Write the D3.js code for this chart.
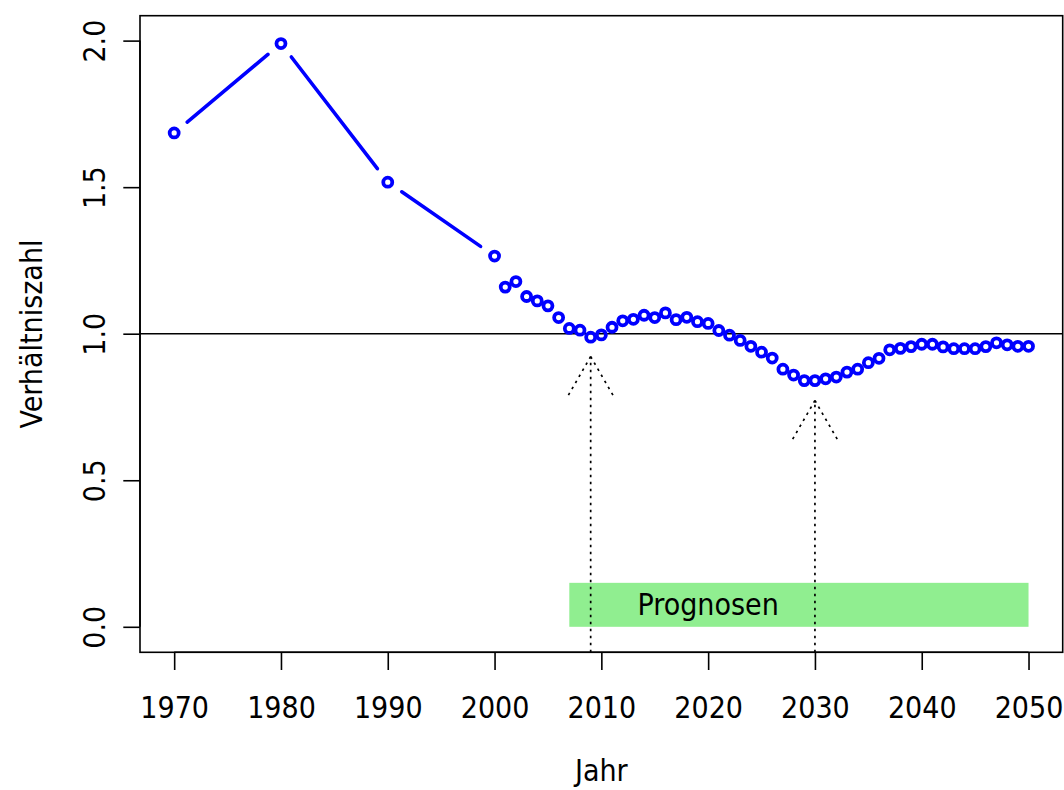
<!DOCTYPE html>
<html>
<head>
<meta charset="utf-8">
<script src="https://cdn.jsdelivr.net/npm/d3@7"></script>
<style>
  body { margin: 0; background: #fff; }
  text { font-family: "DejaVu Sans", sans-serif; font-stretch: condensed; fill: #000; }
</style>
</head>
<body>
<div id="chart"></div>
<script>
// years and ratio values
const years = [1970, 1980, 1990, 2000,
  2001, 2002, 2003, 2004, 2005, 2006, 2007, 2008, 2009, 2010,
  2011, 2012, 2013, 2014, 2015, 2016, 2017, 2018, 2019, 2020,
  2021, 2022, 2023, 2024, 2025, 2026, 2027, 2028, 2029, 2030,
  2031, 2032, 2033, 2034, 2035, 2036, 2037, 2038, 2039, 2040,
  2041, 2042, 2043, 2044, 2045, 2046, 2047, 2048, 2049, 2050];
const values = [1.685, 1.99, 1.517, 1.265,
  1.159, 1.178, 1.127, 1.112, 1.095, 1.055, 1.018, 1.012, 0.988, 0.996,
  1.022, 1.044, 1.049, 1.063, 1.055, 1.071, 1.048, 1.056, 1.041, 1.035,
  1.011, 0.995, 0.977, 0.957, 0.937, 0.917, 0.879, 0.859, 0.840, 0.840,
  0.846, 0.852, 0.869, 0.879, 0.901, 0.916, 0.945, 0.950, 0.956, 0.964,
  0.964, 0.955, 0.949, 0.949, 0.949, 0.956, 0.969, 0.962, 0.957, 0.957];

const xTicks = [1970, 1980, 1990, 2000, 2010, 2020, 2030, 2040, 2050];
const yTicks = [0.0, 0.5, 1.0, 1.5, 2.0];

// arrows marking the two minima
const arrowYears = [2009, 2030];
const arrowTips = [0.922, 0.772];

// forecast band
const bandFrom = 2007, bandTo = 2050, bandTop = 0.15;
const bandLabel = "Prognosen", bandLabelYear = 2020, bandLabelValue = 0.075;
const refLine = 1.0;

const W = 1064, H = 790;
const plot = {left: 140, right: 1062.7, top: 15.7, bottom: 652.3};

const svg = d3.select("#chart").append("svg")
  .attr("width", W).attr("height", H);

// R style 4% padding on x
const x = d3.scaleLinear()
  .domain([1966.8, 2053.2])
  .range([plot.left, plot.right]);

const y = d3.scaleLinear()
  .domain([-0.087, 2.085])
  .range([plot.bottom, plot.top]);

svg.append("defs").append("clipPath")
  .attr("id", "clip")
  .append("rect")
  .attr("x", plot.left).attr("y", plot.top)
  .attr("width", plot.right - plot.left)
  .attr("height", plot.bottom - plot.top);

const inner = svg.append("g").attr("clip-path", "url(#clip)");

// green forecast rectangle
inner.append("rect")
  .attr("x", x(bandFrom))
  .attr("y", y(bandTop))
  .attr("width", x(bandTo) - x(bandFrom))
  .attr("height", y(0) - y(bandTop))
  .attr("fill", "#90EE90");

inner.append("text")
  .attr("x", x(bandLabelYear))
  .attr("y", y(bandLabelValue))
  .attr("text-anchor", "middle")
  .attr("dominant-baseline", "central")
  .style("font-size", "30px")
  .text(bandLabel);

// horizontal reference line
inner.append("line")
  .attr("x1", plot.left).attr("x2", plot.right)
  .attr("y1", y(refLine)).attr("y2", y(refLine))
  .attr("stroke", "#000").attr("stroke-width", 1.6);

// dotted arrows
const headLen = 45, headAng = Math.PI / 6;
arrowYears.forEach((yr, i) => {
  const ax = x(yr), ay = y(arrowTips[i]);
  const g = inner.append("g")
    .attr("stroke", "#000").attr("stroke-width", 1.7)
    .attr("stroke-dasharray", "2.5,4.5").attr("fill", "none");
  g.append("line")
    .attr("x1", ax).attr("y1", plot.bottom)
    .attr("x2", ax).attr("y2", ay);
  [-1, 1].forEach(s => {
    g.append("line")
      .attr("x1", ax).attr("y1", ay)
      .attr("x2", ax + s * headLen * Math.sin(headAng))
      .attr("y2", ay + headLen * Math.cos(headAng));
  });
});

// line segments with gaps around points (like type = "b")
const gap = 17;
const pts = years.map((yr, i) => [x(yr), y(values[i])]);
for (let i = 0; i < pts.length - 1; i++) {
  const [x0, y0] = pts[i], [x1, y1] = pts[i + 1];
  const d = Math.hypot(x1 - x0, y1 - y0);
  if (d <= 2 * gap) continue;
  const ux = (x1 - x0) / d, uy = (y1 - y0) / d;
  svg.append("line")
    .attr("x1", x0 + ux * gap).attr("y1", y0 + uy * gap)
    .attr("x2", x1 - ux * gap).attr("y2", y1 - uy * gap)
    .attr("stroke", "#0000FF").attr("stroke-width", 3.6)
    .attr("stroke-linecap", "round");
}

// points
svg.append("g")
  .selectAll("circle")
  .data(years)
  .join("circle")
    .attr("cx", (d, i) => x(d))
    .attr("cy", (d, i) => y(values[i]))
    .attr("r", 4.5)
    .attr("fill", "none")
    .attr("stroke", "#0000FF")
    .attr("stroke-width", 3.8);

// box
svg.append("rect")
  .attr("x", plot.left).attr("y", plot.top)
  .attr("width", plot.right - plot.left)
  .attr("height", plot.bottom - plot.top)
  .attr("fill", "none").attr("stroke", "#000").attr("stroke-width", 1.6);

// x axis
const xAxis = svg.append("g")
  .attr("transform", `translate(0,${plot.bottom})`)
  .call(d3.axisBottom(x).tickValues(xTicks).tickFormat(d3.format("d"))
    .tickSize(17.7).tickPadding(27).tickSizeOuter(0));
xAxis.select(".domain")
  .attr("d", `M${x(xTicks[0])},0H${x(xTicks[xTicks.length - 1])}`)
  .attr("stroke-width", 1.6);
xAxis.selectAll(".tick line").attr("stroke-width", 1.6);
xAxis.selectAll(".tick text")
  .style("font-size", "30px")
  .attr("font-family", null);

// y axis, labels rotated as in R
const yAxis = svg.append("g")
  .attr("transform", `translate(${plot.left},0)`)
  .call(d3.axisLeft(y).tickValues(yTicks).tickFormat(d3.format(".1f"))
    .tickSize(16.7).tickSizeOuter(0));
yAxis.select(".domain")
  .attr("d", `M0,${y(yTicks[0])}V${y(yTicks[yTicks.length - 1])}`)
  .attr("stroke-width", 1.6);
yAxis.selectAll(".tick line").attr("stroke-width", 1.6);
yAxis.selectAll(".tick text")
  .attr("x", null).attr("dy", null)
  .attr("transform", "translate(-35,0) rotate(-90)")
  .attr("text-anchor", "middle")
  .style("font-size", "30px")
  .attr("font-family", null);

xAxis.attr("font-family", null).attr("font-size", null);
yAxis.attr("font-family", null).attr("font-size", null);

// axis titles
svg.append("text")
  .attr("x", (plot.left + plot.right) / 2)
  .attr("y", 781)
  .attr("text-anchor", "middle")
  .style("font-size", "30px")
  .text("Jahr");

svg.append("text")
  .attr("transform", `translate(41.7,${(plot.top + plot.bottom) / 2}) rotate(-90)`)
  .attr("text-anchor", "middle")
  .style("font-size", "30px")
  .text("Verhältniszahl");
</script>
</body>
</html>
